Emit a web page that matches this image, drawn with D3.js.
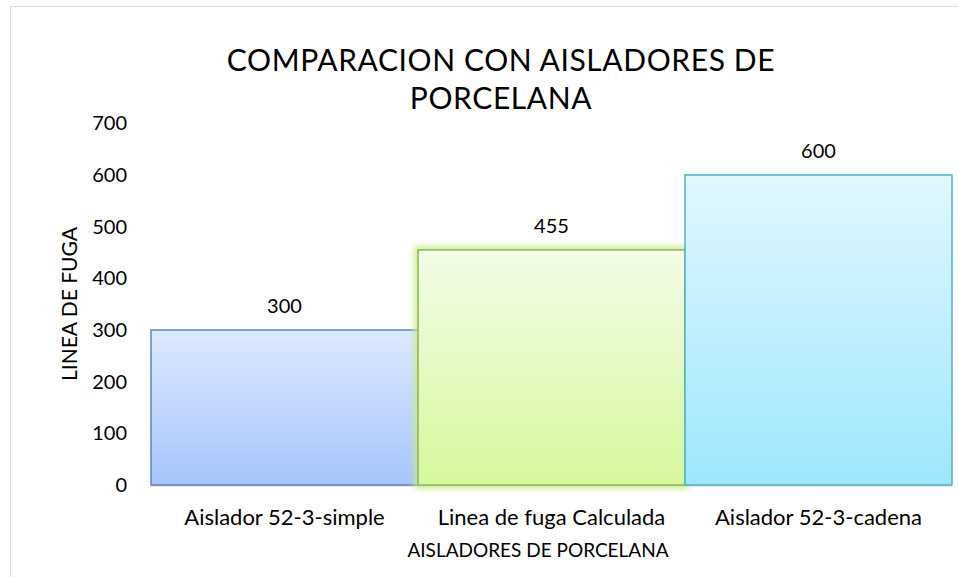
<!DOCTYPE html>
<html><head><meta charset="utf-8">
<script src="https://cdn.jsdelivr.net/npm/d3@7"></script>
<style>body{margin:0;background:#fff;}svg{display:block;}text{font-family:Lato,"Open Sans",sans-serif;fill:#000;}</style>
</head><body><svg id="c" width="958" height="577"></svg>
<script>
const categories = ["Aislador 52-3-simple", "Linea de fuga Calculada", "Aislador 52-3-cadena"];
const values = [300, 455, 600];
const yTicks = [0, 100, 200, 300, 400, 500, 600, 700];
const titleLines = ["COMPARACION CON AISLADORES DE", "PORCELANA"];
const yTitle = "LINEA DE FUGA";
const xTitle = "AISLADORES DE PORCELANA";
const fillTop = ["#dde9fd", "#f2fce8", "#e1f7fe"];
const fillBottom = ["#a6c4fb", "#d6f89c", "#9de7fd"];
const strokes = ["#5a86c6", "#8db356", "#4cb3c8"];

const svg = d3.select("#c");
const W = 958, H = 577;
const m = {l:151, r:952, t:123.3, b:485};
const FF = "Lato,'Open Sans',sans-serif";

// frame
svg.append("rect").attr("x",10.5).attr("y",6.5).attr("width",W+20).attr("height",H+20)
  .attr("fill","none").attr("stroke","#d9d9d9").attr("stroke-width",1);

const x = d3.scaleBand().domain(categories).range([m.l, m.r]).padding(0);
const y = d3.scaleLinear().domain([0, 700]).range([m.b, m.t]);

const defs = svg.append("defs");
categories.forEach((c,i)=>{
  const g = defs.append("linearGradient").attr("id","g"+i).attr("x1",0).attr("x2",0).attr("y1",0).attr("y2",1);
  g.append("stop").attr("offset","0%").attr("stop-color",fillTop[i]);
  g.append("stop").attr("offset","100%").attr("stop-color",fillBottom[i]);
});
const f = defs.append("filter").attr("id","glow").attr("x","-10%").attr("y","-10%").attr("width","120%").attr("height","120%");
f.append("feMorphology").attr("in","SourceAlpha").attr("operator","dilate").attr("radius",3).attr("result","d");
f.append("feGaussianBlur").attr("in","d").attr("stdDeviation",3).attr("result","b");
f.append("feFlood").attr("flood-color","#c9ec8a").attr("flood-opacity",0.9);
f.append("feComposite").attr("in2","b").attr("operator","in").attr("result","gl");
const mg = f.append("feMerge"); mg.append("feMergeNode").attr("in","gl"); mg.append("feMergeNode").attr("in","SourceGraphic");

// y axis tick labels
const yAxis = d3.axisLeft(y).tickValues(yTicks).tickSize(0).tickPadding(0);
const ya = svg.append("g").attr("transform",`translate(127,0)`).call(yAxis);
ya.select(".domain").remove();
ya.selectAll("text").attr("font-size",20).attr("font-family",FF).attr("fill","#000");

// baseline
svg.append("line").attr("x1",m.l).attr("x2",m.r).attr("y1",m.b+0.5).attr("y2",m.b+0.5).attr("stroke","#d0d0d0").attr("stroke-width",2);

// bars: 0, 1 (glow), then 2 over it
[0,1,2].forEach(i=>{
  const r = svg.append("rect")
    .attr("x", x(categories[i])).attr("y", y(values[i]))
    .attr("width", x.bandwidth()).attr("height", y(0)-y(values[i]))
    .attr("fill","url(#g"+i+")").attr("stroke",strokes[i]).attr("stroke-width",1.5);
  if(i===1) r.attr("filter","url(#glow)");
});

// data labels
categories.forEach((c,i)=>{
  svg.append("text").attr("x", x(c)+x.bandwidth()/2).attr("y", y(values[i])-17)
    .attr("text-anchor","middle").attr("font-size",20).text(values[i]);
});

// x axis labels
const xAxis = d3.axisBottom(x).tickSize(0).tickPadding(0);
const xa = svg.append("g").call(xAxis);
xa.select(".domain").remove();
xa.selectAll("text").attr("font-size",22).attr("font-family",FF).attr("fill","#000").attr("dy",null).attr("y",525);

// titles
titleLines.forEach((t,i)=>{
  svg.append("text").attr("x",501).attr("y",71+i*38).attr("text-anchor","middle")
    .attr("font-size",30).attr("letter-spacing",0.6).text(t);
});
svg.append("text").attr("x",538).attr("y",557).attr("text-anchor","middle").attr("font-size",19).text(xTitle);
svg.append("text").attr("transform","translate(77,304) rotate(-90)").attr("text-anchor","middle").attr("font-size",21).text(yTitle);
</script></body></html>
